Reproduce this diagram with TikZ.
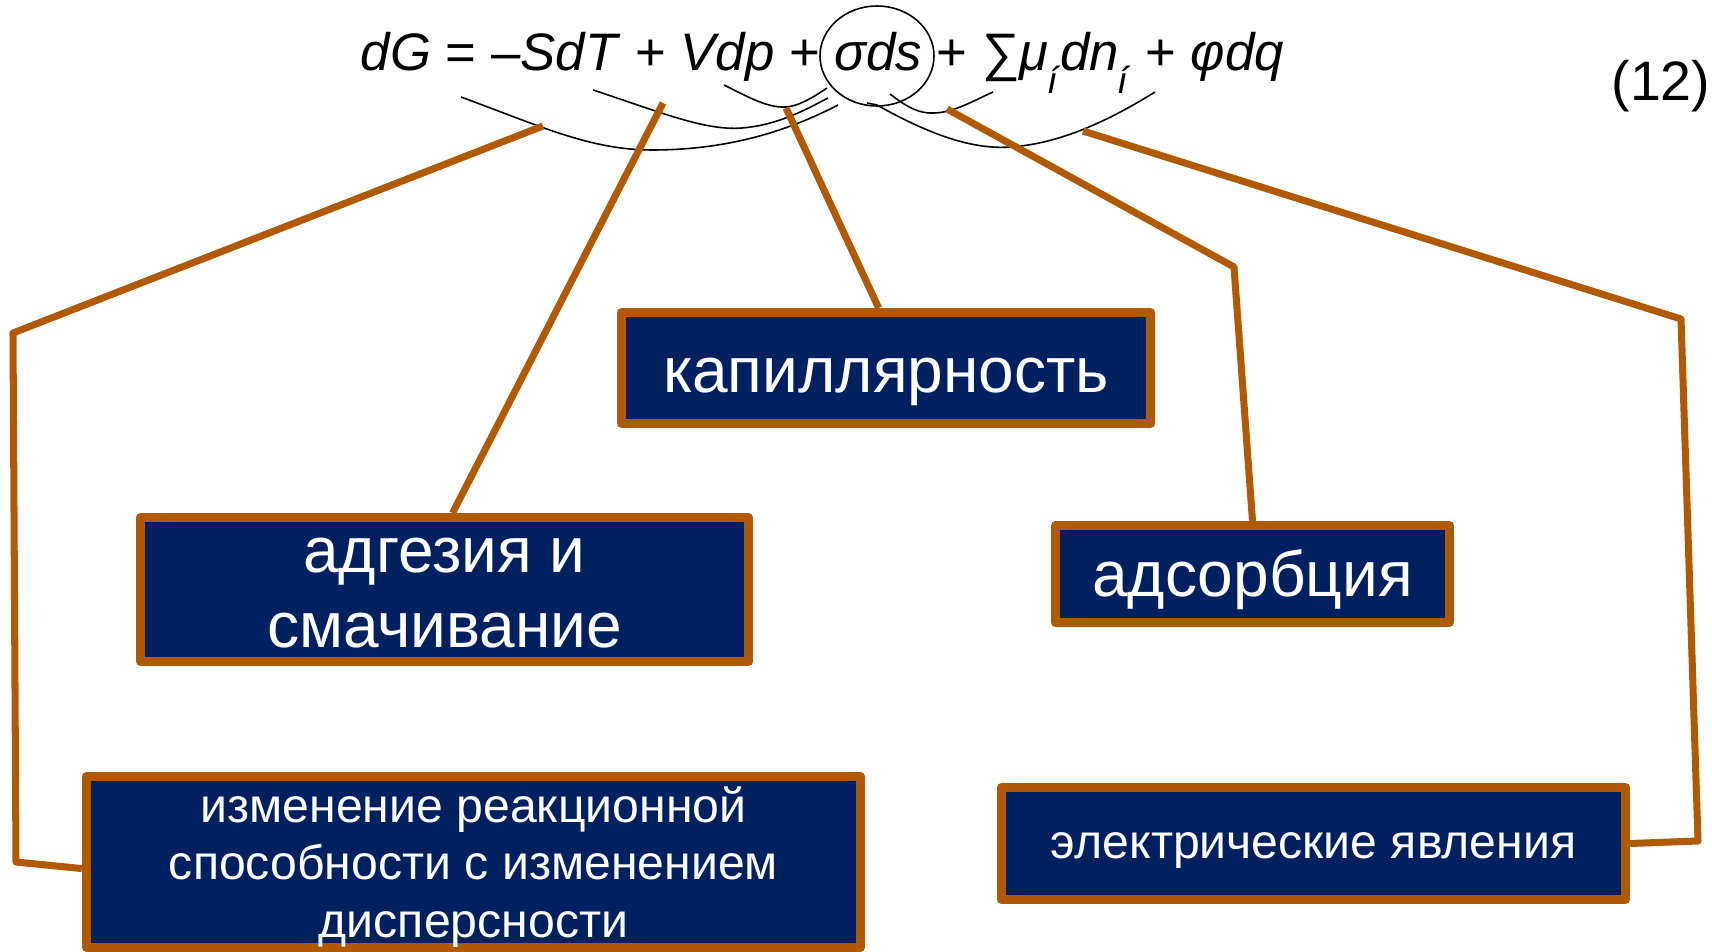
\documentclass[tikz,border=0pt]{standalone}
\usepackage{fontspec}
\setmainfont{Liberation Sans}
\usepackage{tikz}
\definecolor{navy}{RGB}{0,32,96}
\definecolor{rust}{RGB}{176,90,5}
\newcommand{\lowsub}[1]{\kern-0.03em\raisebox{-0.42em}{\fontsize{10.6}{12}\selectfont\textit{#1}}}

\begin{document}
\begin{tikzpicture}[x=0.01cm, y=-0.01cm,
    effbox/.style={draw=rust, line width=2.55pt, line join=round, fill=navy,
        text=white, inner sep=0pt, align=center, text depth=0pt},
    big/.style={font=\fontsize{18.2}{21.3}\selectfont},
    small/.style={font=\fontsize{13.7}{16.3}\selectfont},
    link/.style={draw=rust, line width=2pt, line join=round},
    bracket/.style={draw=black, line width=0.45pt}]
    \useasboundingbox (0,0) rectangle (1712,952);
    \clip (0,0) rectangle (1712,952);

    % equation
    \node[anchor=base west, inner sep=0pt, font=\fontsize{15}{18}\selectfont] (eq) at (360,71)
        {\textit{dG} = –\textit{SdT} + \textit{Vdp} + \textit{σds} + ∑\textit{μ}\lowsub{í}\textit{dn}\lowsub{í} + \textit{φdq}};
    \node[anchor=base east, inner sep=0pt, font=\fontsize{15.8}{19}\selectfont] (num) at (1711,101) {(12)};
    \draw[bracket] (877,56) ellipse [x radius=57, y radius=50];

    % curved brackets under the terms
    \draw[bracket] (461,97) .. controls (540,126) and (590,150) .. (652,150)
        .. controls (730,150) and (790,130) .. (838,105);
    \draw[bracket] (593,90) .. controls (660,112) and (705,131) .. (742,128)
        .. controls (778,125) and (805,110) .. (828,98);
    \draw[bracket] (724,85) .. controls (750,98) and (768,108) .. (786,107)
        .. controls (800,106) and (815,96) .. (827,88);
    \draw[bracket] (867,103) -- (877,105) .. controls (925,132) and (970,150) .. (1010,147)
        .. controls (1060,144) and (1110,120) .. (1155,92);
    \draw[bracket] (890,94) .. controls (908,108) and (920,114) .. (935,113)
        .. controls (955,112) and (975,100) .. (993,92);

    \coordinate (tReact) at (543,126);
    \coordinate (tAdh) at (663,103);
    \coordinate (tCap) at (786,108);
    \coordinate (tAds) at (947,109);
    \coordinate (tElec) at (1083,131);
    \coordinate (bendA) at (13,333);
    \coordinate (bendB) at (16,862);
    \coordinate (bendC) at (1234,267);
    \coordinate (bendD) at (1681,319);
    \coordinate (bendE) at (1698,841);

    % boxes
    \node[effbox, big, text height=14pt, minimum width=5.29cm, minimum height=1.11cm] (cap) at (886,368) {капиллярность};
    \node[effbox, big, text height=33.2pt, minimum width=6.08cm, minimum height=1.44cm] (adh) at (444.5,589.5) {адгезия и\\смачивание};
    \node[effbox, big, text height=13pt, minimum width=3.94cm, minimum height=0.97cm] (ads) at (1252.5,574) {адсорбция};
    \node[effbox, small, text height=42.8pt, minimum width=7.74cm, minimum height=1.705cm] (react) at (473.5,861.75)
        {изменение реакционной\\способности с изменением\\дисперсности};
    \node[effbox, small, text height=8.4pt, minimum width=6.24cm, minimum height=1.12cm] (elec) at (1313.5,843.5) {электрические явления};

    % connectors
    \draw[link] (tReact) -- (bendA) -- (bendB) -- (react.181);
    \draw[link] (tAdh) -- (adh.84);
    \draw[link] (tCap) -- (cap.97);
    \draw[link] (tAds) -- (bendC) -- (ads.north);
    \draw[link] (tElec) -- (bendD) -- (bendE) -- (elec.east);
\end{tikzpicture}
\end{document}
